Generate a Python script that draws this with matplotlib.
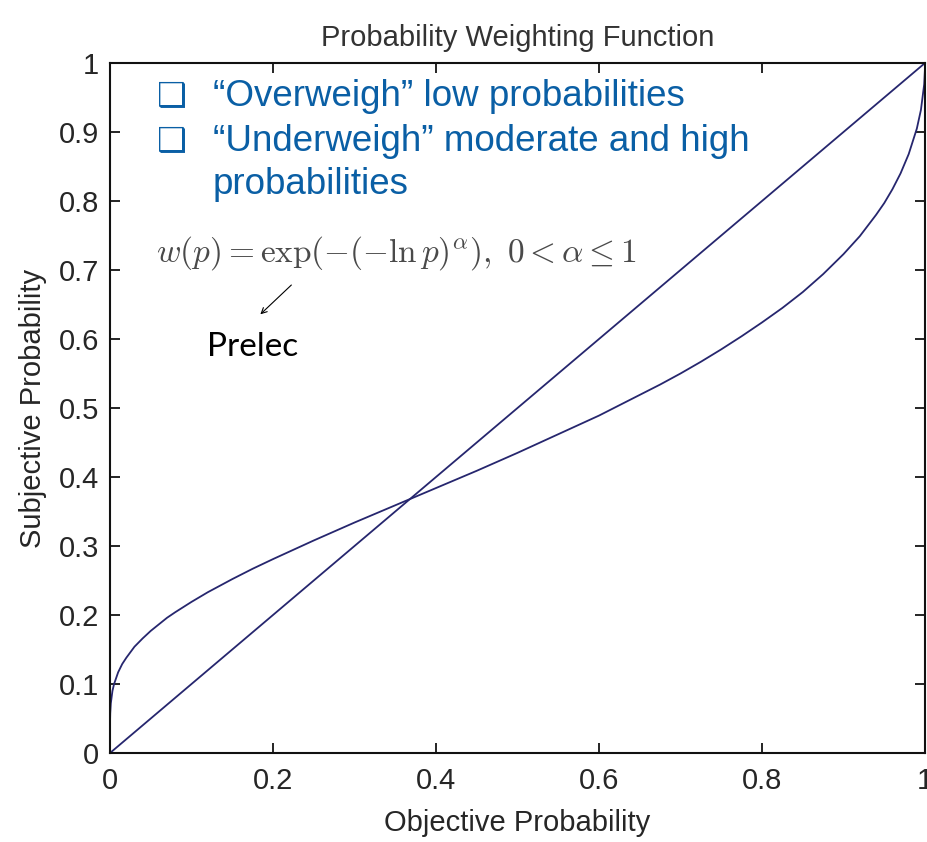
import matplotlib
matplotlib.use('Agg')
import matplotlib.pyplot as plt

# values
objective_prob = [0.0, 0.00001, 0.0001, 0.0003, 0.001, 0.003, 0.005, 0.01, 0.015, 0.02,
                  0.03, 0.04, 0.05, 0.07, 0.08, 0.1, 0.12, 0.15, 0.175, 0.2,
                  0.25, 0.3, 0.35, 0.4, 0.45, 0.5, 0.55, 0.6, 0.625, 0.65,
                  0.675, 0.7, 0.725, 0.75, 0.775, 0.8, 0.825, 0.85, 0.875, 0.9,
                  0.92, 0.94, 0.95, 0.96, 0.97, 0.98, 0.99, 0.995, 0.999, 0.9999, 1.0]
prelec_prob = [0.0, 0.034, 0.048, 0.058, 0.072, 0.090, 0.100, 0.117, 0.129, 0.138,
               0.154, 0.166, 0.177, 0.196, 0.204, 0.219, 0.233, 0.252, 0.267, 0.281,
               0.308, 0.334, 0.359, 0.384, 0.409, 0.435, 0.462, 0.489, 0.504, 0.519,
               0.534, 0.550, 0.567, 0.585, 0.604, 0.624, 0.645, 0.668, 0.694, 0.723,
               0.749, 0.780, 0.797, 0.817, 0.840, 0.868, 0.905, 0.932, 0.969, 0.990, 1.0]
diag_x = [0.0, 1.0]
diag_y = [0.0, 1.0]

x_ticks = [0, 0.2, 0.4, 0.6, 0.8, 1]
y_ticks = [0, 0.1, 0.2, 0.3, 0.4, 0.5, 0.6, 0.7, 0.8, 0.9, 1]

bullets = ['\u201cOverweigh\u201d low probabilities',
           '\u201cUnderweigh\u201d moderate and high',
           'probabilities']

plt.rcParams['font.family'] = ['Liberation Sans', 'DejaVu Sans']
plt.rcParams['mathtext.fontset'] = 'cm'

fig = plt.figure(figsize=(9.28, 8.42), dpi=100)
ax = fig.add_axes([110 / 928, 89 / 842, 815 / 928, 690 / 842])

line_col = '#26266e'
ax.plot(diag_x, diag_y, color=line_col, lw=1.3)
ax.plot(objective_prob, prelec_prob, color=line_col, lw=1.3)

ax.set_xlim(0, 1)
ax.set_ylim(0, 1)
ax.set_xticks(x_ticks)
ax.set_xticklabels(['0', '0.2', '0.4', '0.6', '0.8', '1'])
ax.set_yticks(y_ticks)
ax.set_yticklabels(['0', '0.1', '0.2', '0.3', '0.4', '0.5', '0.6', '0.7', '0.8', '0.9', '1'])
ax.tick_params(direction='in', length=7, width=1.2, top=True, right=True,
               labelsize=21, labelcolor='#262626')
ax.tick_params(axis='x', pad=10)
ax.tick_params(axis='y', pad=8)
for s in ax.spines.values():
    s.set_linewidth(1.5)
    s.set_color('#111111')

ax.set_title('Probability Weighting Function', fontsize=21, color='#333333', pad=12)
ax.set_xlabel('Objective Probability', fontsize=21, color='#262626', labelpad=10)
ax.set_ylabel('Subjective Probability', fontsize=21, color='#262626', labelpad=8)

blue = '#0a5fa5'
ax.text(0.058, 0.937, '\u2751', fontsize=24, color=blue, va='baseline',
        family=['DejaVu Sans'])
ax.text(0.058, 0.873, '\u2751', fontsize=24, color=blue, va='baseline',
        family=['DejaVu Sans'])
ax.text(0.126, 0.937, bullets[0], fontsize=26.5, color=blue, va='baseline')
ax.text(0.126, 0.873, bullets[1], fontsize=26.5, color=blue, va='baseline')
ax.text(0.126, 0.810, bullets[2], fontsize=26.5, color=blue, va='baseline')

ax.text(0.057, 0.724, r'$w(p) = \exp(-(-\ln p)^{\alpha}),\ 0 < \alpha \leq 1$',
        fontsize=24, color='#4a4a4a', va='center')

ax.annotate('', xy=(0.182, 0.633), xytext=(0.225, 0.681),
            arrowprops=dict(arrowstyle='->', color='black', lw=0.8))
ax.text(0.119, 0.588, 'Prelec', fontsize=24, color='black', va='center', family=['Lato'])

fig.savefig('out.png', dpi=100)
